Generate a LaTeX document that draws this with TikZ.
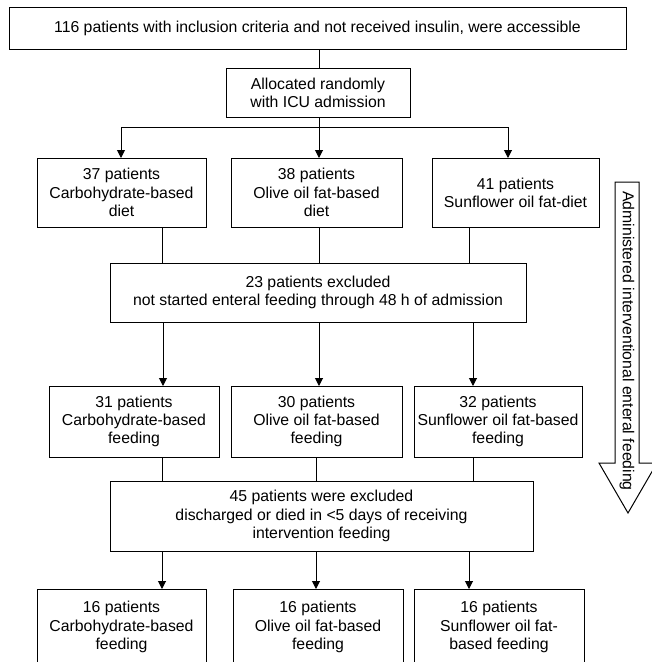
\documentclass[tikz,border=0pt]{standalone}
\usepackage{fontspec}
\setmainfont{Liberation Sans}
\usetikzlibrary{arrows.meta}
\begin{document}
\begin{tikzpicture}[x=1pt,y=-1pt,
  every node/.style={font=\fontsize{15.8}{18.3}\selectfont},
  box/.style={draw,line width=1pt,align=center,inner sep=0pt,outer sep=0pt},
  conn/.style={line width=1pt},
  arr/.style={line width=1pt,-{Triangle[length=8pt,width=8pt]}}]
\useasboundingbox (0,0) rectangle (652,662);
\clip (0,0) rectangle (652,662);
% boxes
\node[box,minimum width=617,minimum height=42] (top) at (317.5,28) {116 patients with inclusion criteria and not received insulin, were accessible};
\node[box,minimum width=184,minimum height=49] (alloc) at (318,92.5) {Allocated randomly\\with ICU admission};
\node[box,minimum width=169,minimum height=69] (r1a) at (121.5,192.5) {37 patients\\Carbohydrate-based\\diet};
\node[box,minimum width=171,minimum height=69] (r1b) at (316.5,192.5) {38 patients\\Olive oil fat-based\\diet};
\node[box,minimum width=167,minimum height=69] (r1c) at (515.5,192.5) {41 patients\\Sunflower oil fat-diet};
\node[box,minimum width=416,minimum height=59] (ex1) at (318,292.5) {23 patients excluded\\not started enteral feeding through 48 h of admission};
\node[box,minimum width=170,minimum height=71] (r2a) at (134,421.5) {31 patients\\Carbohydrate-based\\feeding};
\node[box,minimum width=171,minimum height=71] (r2b) at (316.5,421.5) {30 patients\\Olive oil fat-based\\feeding};
\node[box,minimum width=168,minimum height=71] (r2c) at (498,421.5) {32 patients\\Sunflower oil fat-based\\feeding};
\node[box,minimum width=423,minimum height=70] (ex2) at (321.5,516) {45 patients were excluded\\discharged or died in {<}5 days of receiving\\intervention feeding};
\node[box,minimum width=169,minimum height=76] (r3a) at (121.5,627) {16 patients\\Carbohydrate-based\\feeding};
\node[box,minimum width=170,minimum height=76] (r3b) at (318,627) {16 patients\\Olive oil fat-based\\feeding};
\node[box,minimum width=170,minimum height=76] (r3c) at (499,627) {16 patients\\Sunflower oil fat-\\based feeding};
% connectors
\coordinate (split) at (319,127);
\draw[conn] (top.south -| split) -- (alloc.north -| split);
\draw[conn] (alloc.south -| split) -- (split);
\draw[arr] (split) -| ([xshift=-0.5]r1a.north);
\draw[arr] (split) -- (split |- r1b.north);
\draw[arr] (split) -| ([xshift=-7.5]r1c.north);
% row1 -> ex1
\coordinate (kL) at (162,0);
\coordinate (kM) at (319,0);
\coordinate (kR) at (469,0);
\draw[conn] (r1a.south -| kL) -- (ex1.north -| kL);
\draw[conn] (r1b.south -| kM) -- (ex1.north -| kM);
\draw[conn] (r1c.south -| kR) -- (ex1.north -| kR);
% ex1 -> row2
\coordinate (aL) at (163,0);
\coordinate (aM) at (319,0);
\coordinate (aR) at (473,0);
\draw[arr] (ex1.south -| aL) -- (r2a.north -| aL);
\draw[arr] (ex1.south -| aM) -- (r2b.north -| aM);
\draw[arr] (ex1.south -| aR) -- (r2c.north -| aR);
% row2 -> ex2
\coordinate (bL) at (162,0);
\coordinate (bM) at (316,0);
\coordinate (bR) at (473,0);
\draw[conn] (r2a.south -| bL) -- (ex2.north -| bL);
\draw[conn] (r2b.south -| bM) -- (ex2.north -| bM);
\draw[conn] (r2c.south -| bR) -- (ex2.north -| bR);
% ex2 -> row3
\coordinate (cL) at (162,0);
\coordinate (cM) at (316,0);
\coordinate (cR) at (469,0);
\draw[arr] (ex2.south -| cL) -- (r3a.north -| cL);
\draw[arr] (ex2.south -| cM) -- (r3b.north -| cM);
\draw[arr] (ex2.south -| cR) -- (r3c.north -| cR);
% big side arrow
\draw[line width=1pt,line join=miter] (615,182) -- (639,182) -- (639,463) -- (657,463) -- (628,513) -- (599,463) -- (615,463) -- cycle;
\node[rotate=-90] (side) at (627,341) {Administered interventional enteral feeding};
\end{tikzpicture}
\end{document}
